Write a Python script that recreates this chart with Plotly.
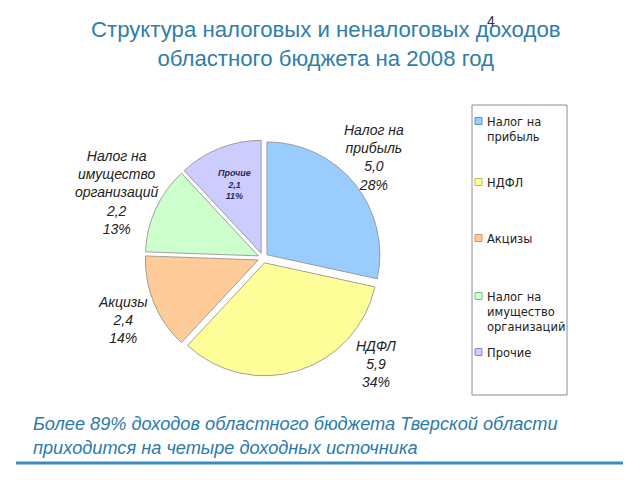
import plotly.graph_objects as go

# ---- data ----
categories = ["Налог на прибыль", "НДФЛ", "Акцизы", "Налог на имущество организаций", "Прочие"]
values = [5.0, 5.9, 2.4, 2.2, 2.1]
value_labels = ["5,0", "5,9", "2,4", "2,2", "2,1"]
percent_labels = ["28%", "34%", "14%", "13%", "11%"]
label_lines = ["Налог на<br>прибыль", "НДФЛ", "Акцизы", "Налог на<br>имущество<br>организаций", "Прочие"]
legend_lines = ["Налог на<br>прибыль", "НДФЛ", "Акцизы", "Налог на<br>имущество<br>организаций", "Прочие"]
colors = ["#99CCFF", "#FFFF99", "#FFCC99", "#CCFFCC", "#CCCCFF"]
border_colors = ["#5F8FC8", "#B8B860", "#C89868", "#88B888", "#8888C0"]

W, H = 640, 480
def px(x): return x / W
def py(y): return 1 - y / H

fig = go.Figure()
fig.add_trace(go.Pie(
    labels=categories, values=values, sort=False, direction="clockwise", rotation=0,
    marker=dict(colors=colors, line=dict(color="#8A8A8A", width=0.8)),
    pull=[0.045] * 5, textinfo="none", showlegend=False, hoverinfo="label+value",
    domain=dict(x=[px(145), px(381)], y=[py(376), py(140)]),
))

annotations = []
# title
annotations.append(dict(x=px(326), y=py(44), xref="paper", yref="paper", showarrow=False,
                        text="Структура налоговых и неналоговых доходов<br>областного бюджета на 2008 год",
                        font=dict(family="Liberation Sans, Arial", size=22.2, color="#2F7EA8"),
                        xanchor="center", yanchor="middle"))
annotations.append(dict(x=px(491), y=py(21), xref="paper", yref="paper", showarrow=False,
                        text="4", font=dict(family="Liberation Sans, Arial", size=14, color="#333333"),
                        xanchor="center", yanchor="middle"))
# pie labels
label_pos = [(374, 158), (376, 364), (123, 320), (117, 192)]
for i, (x, y) in enumerate(label_pos):
    annotations.append(dict(x=px(x), y=py(y), xref="paper", yref="paper", showarrow=False,
                            text="<i>%s<br>%s<br>%s</i>" % (label_lines[i], value_labels[i], percent_labels[i]),
                            font=dict(family="Liberation Sans, Arial", size=14, color="#222222"),
                            xanchor="center", yanchor="middle", align="center"))
annotations.append(dict(x=px(234), y=py(184), xref="paper", yref="paper", showarrow=False,
                        text="<i><b>%s<br>%s<br>%s</b></i>" % (label_lines[4], value_labels[4], percent_labels[4]),
                        font=dict(family="Liberation Sans, Arial", size=9, color="#2A2A55"),
                        xanchor="center", yanchor="middle", align="center"))

# legend (manual)
shapes = [dict(type="rect", xref="paper", yref="paper", x0=px(472), x1=px(567), y0=py(395), y1=py(105),
               line=dict(color="#8C8C8C", width=1), fillcolor="rgba(0,0,0,0)")]
legend_y = [121, 182, 238, 296, 352]
for i, ly in enumerate(legend_y):
    shapes.append(dict(type="rect", xref="paper", yref="paper", x0=px(475), x1=px(482),
                       y0=py(ly + 3.5), y1=py(ly - 3.5), fillcolor=colors[i],
                       line=dict(color=border_colors[i], width=1)))
    annotations.append(dict(x=px(485), y=py(ly - 8), xref="paper", yref="paper", showarrow=False,
                            text=legend_lines[i], align="left",
                            font=dict(family="DejaVu Sans", size=11.5, color="#222222"),
                            xanchor="left", yanchor="top"))

# bottom note and line
annotations.append(dict(x=px(31), y=py(436), xref="paper", yref="paper", showarrow=False,
                        text="<i>Более 89% доходов областного бюджета Тверской области<br>приходится на четыре доходных источника</i>",
                        font=dict(family="Liberation Sans, Arial", size=18.2, color="#2B7BAA"),
                        xanchor="left", yanchor="middle", align="left"))
shapes.append(dict(type="line", xref="paper", yref="paper", x0=px(16), x1=px(623), y0=py(463), y1=py(463),
                   line=dict(color="#3A8DC0", width=3)))

fig.update_layout(width=W, height=H, margin=dict(l=0, r=0, t=0, b=0),
                  paper_bgcolor="white", plot_bgcolor="white",
                  annotations=annotations, shapes=shapes, showlegend=False)
fig.write_html("out.html")
